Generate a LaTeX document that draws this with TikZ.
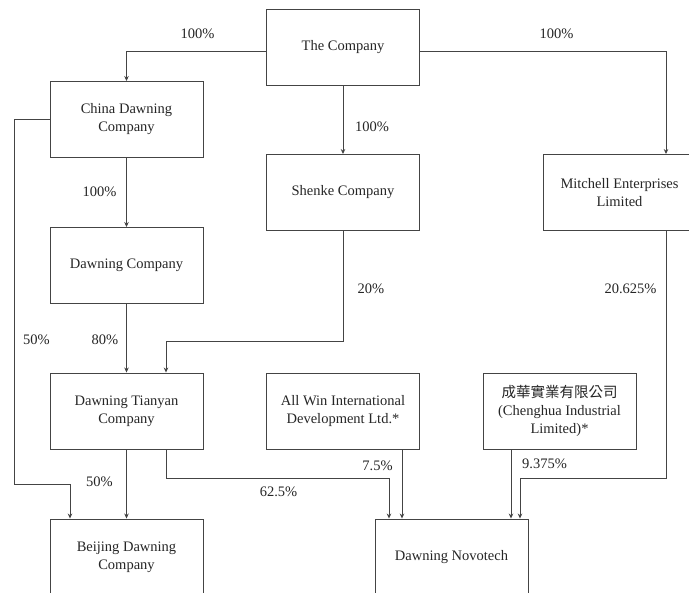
\documentclass[tikz,border=0pt]{standalone}
\usepackage{fontspec}
\setmainfont{Liberation Serif}
\newfontfamily\cjkfont{Noto Sans CJK TC}
\usetikzlibrary{arrows.meta}
\definecolor{linegray}{HTML}{444444}
\definecolor{textgray}{HTML}{262626}
\begin{document}
\begin{tikzpicture}[x=1pt,y=-1pt,
  box/.style={draw=linegray, line width=0.9pt, rectangle, minimum width=153pt, minimum height=76pt, inner sep=0pt, align=center, text=textgray, font=\fontsize{14.5}{18}\selectfont},
  conn/.style={draw=linegray, line width=0.9pt, -{Stealth[length=5pt,width=4.5pt]}},
  pct/.style={text=textgray, font=\fontsize{14.5}{18}\selectfont, inner sep=0pt}]
\useasboundingbox (0,0) rectangle (689,593);
\clip (0,0) rectangle (689,593);
\fill[white] (0,0) rectangle (689,593);

\node[box] (comp) at (343,47) {The Company};
\node[box] (china) at (126.5,119.5) {China Dawning\\Company};
\node[box] (shenke) at (343,192.5) {Shenke Company};
\node[box] (mitch) at (619.5,192.5) {Mitchell Enterprises\\Limited};
\node[box] (dawn) at (126.5,265.5) {Dawning Company};
\node[box] (tian) at (126.5,411) {Dawning Tianyan\\Company};
\node[box] (allwin) at (343,411) {All Win International\\Development Ltd.*};
\node[box] (cheng) at (559.5,411) {{\cjkfont 成華實業有限公司}\\(Chenghua Industrial\\Limited)*};
\node[box] (beijing) at (126.5,557) {Beijing Dawning\\Company};
\node[box] (novo) at (451.5,557) {Dawning Novotech};

\draw[conn] (comp.west |- 0,51) -| (china.north);
\draw[conn] (comp.east |- 0,51) -| (666,0 |- mitch.north);
\draw[conn] (comp.south) -- (shenke.north);
\draw[conn] (china.south) -- (dawn.north);
\draw[conn] (dawn.south) -- (tian.north);
\draw[conn] (shenke.south) -- (343,341) -| (166,0 |- tian.north);
\draw[conn] (china.west) -- (14,0 |- china.west) -- (14,484) -| (70,0 |- beijing.north);
\draw[conn] (tian.south) -- (beijing.north);
\draw[conn] (166,0 |- tian.south) -- (166,478) -| (389,0 |- novo.north);
\draw[conn] (402,0 |- allwin.south) -- (402,0 |- novo.north);
\draw[conn] (511,0 |- cheng.south) -- (511,0 |- novo.north);
\draw[conn] (666,0 |- mitch.south) -- (666,478) -| (520,0 |- novo.north);

\node[pct] (p1) at (197.5,34) {100\%};
\node[pct] (p2) at (372,127) {100\%};
\node[pct] (p3) at (556.5,34) {100\%};
\node[pct] (p4) at (99.5,192) {100\%};
\node[pct] (p5) at (371,289) {20\%};
\node[pct] (p6) at (630.5,289) {20.625\%};
\node[pct] (p7) at (36.5,340) {50\%};
\node[pct] (p8) at (105,340) {80\%};
\node[pct] (p9) at (99.5,482) {50\%};
\node[pct] (p10) at (278.5,492) {62.5\%};
\node[pct] (p11) at (377.5,466) {7.5\%};
\node[pct] (p12) at (544.5,464) {9.375\%};
\end{tikzpicture}
\end{document}
